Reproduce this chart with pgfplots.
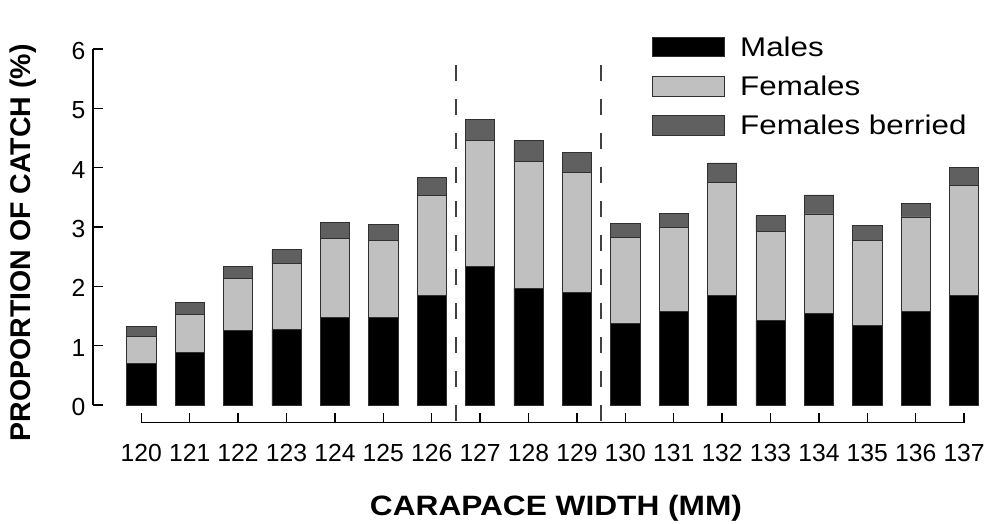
\documentclass[border=0pt]{standalone}
\usepackage{graphicx}
\usepackage{pgfplots}
\pgfplotsset{compat=1.18}
\usepackage{fontspec}
\setmainfont{Liberation Sans}
\definecolor{fem}{HTML}{C0C0C0}
\definecolor{ber}{HTML}{606060}
\definecolor{edge}{HTML}{303030}
\pgfplotsset{legbox/.style={legend image code/.code={\draw[##1,line width=0.8pt] (0pt,-9.65pt) rectangle (71.4pt,9.65pt);}}}
\begin{document}
\begin{tikzpicture}
\path[use as bounding box] (0,0) rectangle (988pt,523pt);
\begin{axis}[
  at={(93pt,118pt)}, anchor=south west,
  scale only axis, width=890.6pt, height=356pt,
  xmin=-1, xmax=17.4, ymin=0, ymax=6,
  ybar stacked, bar width=29.3pt,
  axis x line=none, axis y line*=left,
  ytick={0,1,2,3,4,5,6}, tick align=inside, major tick length=10pt,
  axis line style={line width=1.4pt, black},
  ytick style={line width=1.4pt, black},
  /pgf/number format/assume math mode=true,
  yticklabel style={font=\fontsize{24.7}{28}\selectfont, xshift=-4pt, yshift=-2pt},
  ylabel={PROPORTION OF CATCH (\%)},
  every axis y label/.style={at={(axis description cs:-0.0786,0.456)}, rotate=90, anchor=center, font=\bfseries\fontsize{28.5}{32}\selectfont},
  clip=false,
  legend cell align=left,
  legend style={at={(axis description cs:0.628,1.0346)}, anchor=north west, draw=none, fill=none, inner sep=0pt, outer sep=0pt, row sep=18pt, column sep=15.7pt, font=\fontsize{27}{30}\selectfont, nodes={inner sep=0pt}},
]
\addplot[fill=black, draw=edge, line width=0.8pt, legbox] coordinates {
(0,0.70) (1,0.89) (2,1.25) (3,1.28) (4,1.48) (5,1.47) (6,1.84) (7,2.34) (8,1.97)
(9,1.90) (10,1.37) (11,1.58) (12,1.84) (13,1.42) (14,1.55) (15,1.34) (16,1.58) (17,1.85)};
\addlegendentry{\scalebox{1.16}[1]{Males}}
\addplot[fill=fem, draw=edge, line width=0.8pt, legbox] coordinates {
(0,0.46) (1,0.63) (2,0.88) (3,1.11) (4,1.33) (5,1.30) (6,1.69) (7,2.12) (8,2.14)
(9,2.02) (10,1.46) (11,1.41) (12,1.91) (13,1.50) (14,1.67) (15,1.44) (16,1.59) (17,1.85)};
\addlegendentry{\scalebox{1.16}[1]{Females}}
\addplot[fill=ber, draw=edge, line width=0.8pt, legbox] coordinates {
(0,0.17) (1,0.21) (2,0.21) (3,0.23) (4,0.26) (5,0.27) (6,0.31) (7,0.36) (8,0.35)
(9,0.33) (10,0.23) (11,0.24) (12,0.33) (13,0.27) (14,0.32) (15,0.24) (16,0.23) (17,0.31)};
\addlegendentry{\scalebox{1.16}[1]{Females berried}}
\end{axis}
\begin{axis}[
  at={(141.3pt,100.3pt)}, anchor=south west,
  scale only axis, width=822.8pt, height=373.7pt,
  xmin=0, xmax=17, ymin=-0.298, ymax=6,
  axis y line=none, axis x line*=bottom,
  xtick={0,1,2,3,4,5,6,7,8,9,10,11,12,13,14,15,16,17},
  xticklabels={120,121,122,123,124,125,126,127,128,129,130,131,132,133,134,135,136,137},
  tick align=inside, major tick length=10pt,
  axis line style={line width=1.4pt, black},
  xtick style={line width=1.4pt, black},
  xticklabel style={font=\fontsize{24.7}{28}\selectfont, anchor=base, yshift=-39pt},
  xlabel={\scalebox{1.13}[1]{CARAPACE WIDTH (MM)}},
  every axis x label/.style={at={(axis description cs:0.504,-0.247)}, anchor=base, font=\bfseries\fontsize{28}{32}\selectfont},
  clip=false,
]
\addplot[black!75, line width=1.3pt, dash pattern=on 16pt off 18pt] coordinates {(6.5,5.73) (6.5,-0.405)};
\addplot[black!75, line width=1.3pt, dash pattern=on 16pt off 18pt] coordinates {(9.5,5.73) (9.5,-0.405)};
\end{axis}
\end{tikzpicture}
\end{document}
